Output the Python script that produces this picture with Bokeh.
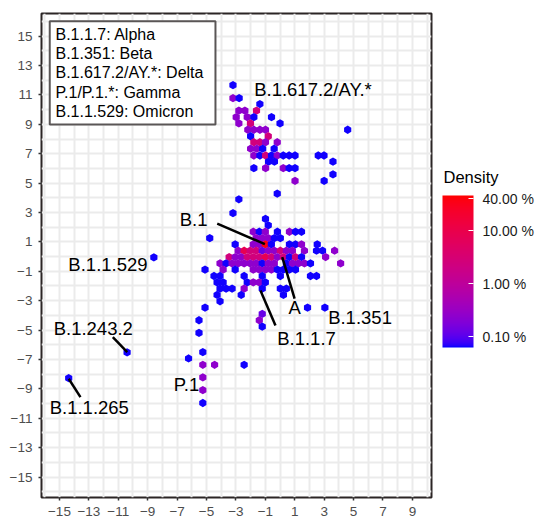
import math
from bokeh.plotting import figure
from bokeh.models import (ColumnDataSource, FixedTicker, LogColorMapper, ColorBar,
                          CustomJSTickFormatter, Range1d, Label)
from bokeh.core.properties import value
from bokeh.embed import file_html
from bokeh.resources import INLINE

FONT = "Liberation Sans"

# ---------------- data ----------------
# density levels (percent of sequences per hexagon), read from the colour of each cell
B, BP, P, PM, M, MR, R = 0.066, 0.12, 0.25, 0.6, 2.5, 8.0, 38.0

# rows of hexagons: (y, [x ...], [density ...])
hex_rows = [
    (11.67, [-3.20], [B]),
    (10.78, [-3.20, -2.78], [P, B]),
    (10.38, [-1.37], [B]),
    (9.93, [-2.80, -2.39, -1.60], [P, P, M]),
    (9.49, [-2.98, -2.23, -1.78, -0.58], [P, P, B, B]),
    (9.06, [-2.80, -2.01, 0.00], [P, M, B]),
    (8.63, [-2.19, -1.78, -1.37, -0.99, 4.60], [P, P, P, P, B]),
    (8.19, [-2.00, -0.80], [B, M]),
    (7.78, [-1.78, -1.37, -0.99, -0.19], [M, M, P, P]),
    (7.34, [-2.00, -1.58, -1.18, -0.40], [P, P, B, B]),
    (6.88, [-1.78, -1.37, -0.98, -0.58, -0.19, 0.22, 0.62, 1.02, 2.60, 2.99],
           [P, B, M, B, P, B, B, B, B, B]),
    (6.46, [-0.78, -0.38, 3.60], [B, B, B]),
    (6.02, [-1.78, -0.98, 0.22, 0.62, 1.02], [B, P, P, B, B]),
    (5.59, [3.60], [B]),
    (5.15, [1.02, 3.00], [P, B]),
    (4.28, [-0.19], [B]),
    (3.90, [-2.80], [B]),
    (2.96, [-3.20], [B]),
    (2.57, [-0.99], [B]),
    (2.13, [-0.80], [B]),
    (1.69, [-1.82, -1.41, -1.00, -0.18, 0.64, 1.05, 1.46], [P, B, P, B, P, B, B]),
    (1.26, [-4.78, -1.62, -1.21, -0.80, -0.39, 0.02], [B, P, P, P, B, B]),
    (0.83, [-3.05, -1.82, -1.41, -1.00, -0.59, 0.64, 1.05, 1.46, 2.53],
           [B, P, P, R, B, B, B, P, B]),
    (0.40, [-2.85, -2.44, -2.03, -1.62, -1.21, -0.80, -0.39, 0.02, 0.43, 0.84, 1.66, 2.48, 2.89, 3.71],
           [P, MR, M, M, BP, P, P, M, P, P, P, B, B, P]),
    (-0.03, [-3.46, -3.05, -2.64, -2.23, -1.82, -1.41, -1.00, -0.59, -0.18, 0.23, 0.64, 1.05, 1.46, 3.10],
            [M, P, P, M, M, M, MR, M, P, M, B, M, B, P]),
    (-0.46, [-4.08, -3.67, -3.26, -2.85, -2.44, -2.03, -1.62, -1.21, -0.80, -0.39, 0.43, 0.84, 1.25, 1.66, 2.07, 4.12],
            [P, B, P, P, P, P, P, B, P, P, B, P, P, P, B, P]),
    (-0.89, [-5.10, -3.87, -3.05, -1.82, -1.41, -1.00, -0.59, -0.18, 0.23, 0.64, 1.05],
            [B, P, B, P, P, P, P, B, B, B, B]),
    (-1.32, [-4.49, -4.08, -2.44, -1.21, 0.02, 2.07, 2.48], [B, B, B, B, B, B, B]),
    (-1.75, [-4.28, -3.87, -2.23, -1.82, -1.41, -1.00], [B, B, B, P, P, B]),
    (-2.18, [-4.08, -3.67, -3.26, -2.44, -1.21, 0.02, 0.43], [B, B, B, P, B, B, B]),
    (-2.61, [-4.28, -2.64, 0.23], [B, B, B]),
    (-3.04, [-4.08], [B]),
    (-3.47, [-5.10, 1.87, 3.05], [B, B, B]),
    (-3.90, [-1.21], [BP]),
    (-4.33, [-5.51, -1.41], [B, P]),
    (-4.76, [-1.21], [B]),
    (-5.19, [-5.51], [B]),
    (-6.50, [-5.25], [B]),
    (-6.93, [-6.22], [B]),
    (-7.36, [-5.25, -4.45, -2.44], [P, P, B]),
    (-8.22, [-5.25], [P]),
    (-9.08, [-5.25], [P]),
    (-9.96, [-5.25], [B]),
    (-0.05, [-8.58], [B]),
    (-6.52, [-10.40], [B]),
    (-8.27, [-14.37], [B]),
]

lineage_labels = ["B.1.617.2/AY.*", "B.1", "A", "B.1.351", "B.1.1.7",
                  "B.1.1.529", "B.1.243.2", "B.1.1.265", "P.1"]
label_x = [2.24, -5.88, 0.99, 5.44, 1.80, -11.70, -12.70, -12.97, -6.36]
label_y = [11.37, 2.50, -3.43, -4.14, -5.56, -0.55, -4.90, -10.28, -8.68]

seg_x0 = [-4.27, 0.99, -0.31, -11.37, -14.37]
seg_y0 = [2.24, -2.86, -4.68, -5.48, -8.31]
seg_x1 = [-1.03, 0.15, -1.33, -10.39, -13.57]
seg_y1 = [0.85, -0.03, -2.30, -6.50, -9.56]

legend_lines = ["B.1.1.7: Alpha", "B.1.351: Beta", "B.1.617.2/AY.*: Delta",
                "P.1/P.1.*: Gamma", "B.1.1.529: Omicron"]
legend_line_y = [15.10, 13.80, 12.51, 11.19, 9.90]

x_ticks = list(range(-15, 10, 2))
y_ticks = list(range(-15, 16, 2))
density_ticks = [0.1, 1, 10, 40]

# ---------------- colour scale (blue -> red, interpolated in Lab) ----------------
def _lin(c):
    c = c / 255.0
    return c / 12.92 if c <= 0.04045 else ((c + 0.055) / 1.055) ** 2.4

def _gam(c):
    c = max(0.0, min(1.0, c))
    v = 12.92 * c if c <= 0.0031308 else 1.055 * (c ** (1 / 2.4)) - 0.055
    return int(max(0, min(255, round(v * 255))))

def to_lab(rgb):
    r, g, b = [_lin(v) for v in rgb]
    X = (0.4124 * r + 0.3576 * g + 0.1805 * b) / 0.95047
    Y = 0.2126 * r + 0.7152 * g + 0.0722 * b
    Z = (0.0193 * r + 0.1192 * g + 0.9505 * b) / 1.08883
    f = lambda t: t ** (1 / 3) if t > 0.008856 else 7.787 * t + 16 / 116
    fx, fy, fz = f(X), f(Y), f(Z)
    return (116 * fy - 16, 500 * (fx - fy), 200 * (fy - fz))

def from_lab(L, a, b):
    fy = (L + 16) / 116
    fx = fy + a / 500
    fz = fy - b / 200
    inv = lambda t: t ** 3 if t ** 3 > 0.008856 else (t - 16 / 116) / 7.787
    X = inv(fx) * 0.95047
    Y = inv(fy)
    Z = inv(fz) * 1.08883
    r = 3.2406 * X - 1.5372 * Y - 0.4986 * Z
    g = -0.9689 * X + 1.8758 * Y + 0.0415 * Z
    bb = 0.0557 * X - 0.2040 * Y + 1.0570 * Z
    return "#%02x%02x%02x" % (_gam(r), _gam(g), _gam(bb))

lab_lo = to_lab((0, 0, 255))
lab_hi = to_lab((255, 0, 0))
palette = []
for i in range(256):
    t = i / 255
    palette.append(from_lab(*[lo + (hi - lo) * t for lo, hi in zip(lab_lo, lab_hi)]))

mapper = LogColorMapper(palette=palette, low=0.063, high=46)

# ---------------- figure ----------------
hx, hy, hd = [], [], []
for yv, xs, ds in hex_rows:
    for xv, dv in zip(xs, ds):
        hx.append(xv)
        hy.append(yv)
        hd.append(dv)
src = ColumnDataSource(dict(x=hx, y=hy, pct=hd))

p = figure(width=540, height=520, x_range=Range1d(-16.22, 10.30), y_range=Range1d(-16.39, 16.54),
           output_backend="svg", toolbar_location=None,
           min_border_left=41, min_border_right=109, min_border_top=13, min_border_bottom=23)
p.background_fill_color = "white"
p.border_fill_color = "white"
p.outline_line_color = "#2B2525"
p.outline_line_width = 2

for g, rng in ((p.xgrid, range(-16, 11)), (p.ygrid, range(-16, 17))):
    g.ticker = FixedTicker(ticks=list(rng))
    g.grid_line_color = "#EBEBEB"
    g.grid_line_width = 2

for ax, ticks, stand in ((p.xaxis, x_ticks, 6), (p.yaxis, y_ticks, 6)):
    ax.ticker = FixedTicker(ticks=ticks)
    ax.major_label_overrides = {t: str(t).replace("-", "\u2212") for t in ticks}
    ax.axis_line_color = None
    ax.major_tick_line_color = "#333333"
    ax.major_tick_line_width = 1.5
    ax.major_tick_out = 3
    ax.major_tick_in = 0
    ax.minor_tick_line_color = None
    ax.major_label_text_color = "#4D4D4D"
    ax.major_label_text_font = FONT
    ax.major_label_text_font_size = "13.5px"
    ax.major_label_standoff = stand

# annotation box with variant names
p.quad(left=[-15.66], right=[-4.39], top=[16.02], bottom=[8.99],
       fill_color="white", line_color="#5A5656", line_width=2)
p.text(x=[-15.27] * len(legend_lines), y=legend_line_y, text=legend_lines,
       text_font=value(FONT), text_font_size="16px", text_color="black",
       text_align="left", text_baseline="middle")

# hexagon cells
p.scatter("x", "y", source=src, marker="hex", size=8.3, angle=math.pi / 6,
          fill_color={"field": "pct", "transform": mapper}, line_color=None)

# label pointers and labels
p.segment(x0=seg_x0, y0=seg_y0, x1=seg_x1, y1=seg_y1, line_color="black", line_width=2.5)
p.text(x=label_x, y=label_y, text=lineage_labels, text_font=value(FONT),
       text_font_size="18.5px", text_color="black", text_align="center", text_baseline="middle")

# colour bar (title drawn separately so that it sits above the bar)
cb = ColorBar(color_mapper=mapper, ticker=FixedTicker(ticks=density_ticks),
              formatter=CustomJSTickFormatter(code="return tick.toFixed(2) + ' %'"),
              width=31, height=152,
              major_label_text_font=FONT, major_label_text_font_size="14px",
              major_label_text_color="#1A1A1A", label_standoff=9,
              major_tick_line_color="white", major_tick_in=5, major_tick_out=0,
              minor_tick_line_color=None, bar_line_color=None, border_line_color=None,
              background_fill_alpha=0, padding=0, margin=0, location=(401, 150))
p.add_layout(cb)
p.add_layout(Label(x=12, y=321, x_units="screen", y_units="screen", text="Density",
                   text_font=FONT, text_font_size="16.5px", text_color="black",
                   text_baseline="alphabetic", text_align="left"), "right")

open("out.html", "w").write(file_html(p, INLINE))
